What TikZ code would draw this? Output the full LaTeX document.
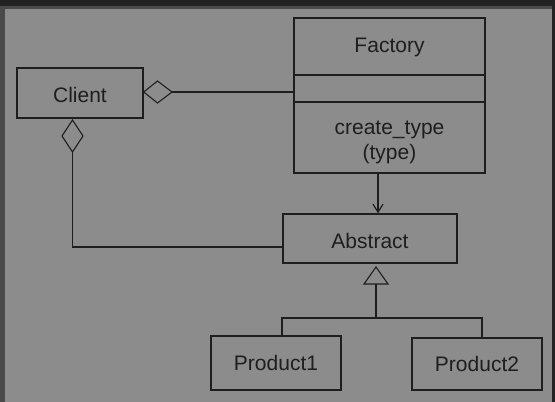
\documentclass[tikz,border=0pt]{standalone}
\usepackage{fontspec}
\setmainfont{Liberation Sans}
\usetikzlibrary{arrows.meta}
\definecolor{bg}{HTML}{8C8C8C}
\definecolor{ink}{HTML}{1E1E1E}
\definecolor{band}{HTML}{222222}
\definecolor{frame}{HTML}{4A4A4A}
\begin{document}
\begin{tikzpicture}[x=1pt,y=-1pt,
  box/.style={draw=ink,line width=1.4pt,inner sep=0pt,anchor=center},
  lbl/.style={text=ink,font=\fontsize{21}{24}\selectfont,inner sep=0pt,anchor=base},
  conn/.style={draw=ink,line width=1.4pt},
  hollow/.style={draw=ink,line width=1.1pt,fill=bg,line join=miter}]
\useasboundingbox (0,0) rectangle (555,402);
\fill[bg] (0,0) rectangle (555,402);
\fill[band] (0,0) rectangle (555,6);
\fill[frame] (0,6) rectangle (555,8.5);
\fill[frame] (0,6) rectangle (4.5,402);
\fill[band] (552,6) rectangle (555,402);
% nodes
\node[box,minimum width=126pt,minimum height=50pt] (client) at (80,93) {};
\node[lbl] (clientt) at (80,102.5) {Client};
\node[box,minimum width=191pt,minimum height=155pt] (factory) at (389.5,95.5) {};
\node[lbl] (factoryt) at (389.5,52.5) {Factory};
\node[lbl] (createt) at (389.5,134) {create\_type};
\node[lbl] (typet) at (389.5,159) {(type)};
\node[box,minimum width=174pt,minimum height=49pt] (abstract) at (370,238.5) {};
\node[lbl] (abstractt) at (370,248) {Abstract};
\node[box,minimum width=130pt,minimum height=54pt] (p1) at (276,363) {};
\node[lbl] (p1t) at (276,370) {Product1};
\node[box,minimum width=130pt,minimum height=52pt] (p2) at (477,364) {};
\node[lbl] (p2t) at (477,371.5) {Product2};
% factory dividers
\draw[conn] (factory.west |- 0,75) -- (factory.east |- 0,75);
\draw[conn] (factory.west |- 0,102) -- (factory.east |- 0,102);
% client - factory aggregation
\coordinate (d1r) at (172,92);
\draw[conn] (d1r) -- (factory.west |- d1r);
\draw[hollow] (client.east |- 0,92) -- (157.5,81) -- (d1r) -- (157.5,103) -- cycle;
% client - abstract aggregation
\coordinate (d2b) at (72.5,152);
\coordinate (corner) at (72.5,247);
\draw[conn] (d2b) -- (corner) -- (abstract.west |- corner);
\draw[hollow] (72.5,120) -- (83,136) -- (d2b) -- (62,136) -- cycle;
% factory -> abstract
\coordinate (ax) at (378,0);
\draw[conn,-{Straight Barb[length=8pt,width=10pt,line width=1.2pt]}] (factory.south -| ax) -- (abstract.north -| ax);
% inheritance
\coordinate (tb) at (376,284);
\coordinate (bar) at (376,318);
\draw[conn] (tb) -- (bar);
\draw[conn] (p1.north -| 282,0) -- (282,318) -- (482,318) -- (p2.north -| 482,0);
\draw[hollow] (376,267) -- (388,284) -- (364,284) -- cycle;
\end{tikzpicture}
\end{document}
